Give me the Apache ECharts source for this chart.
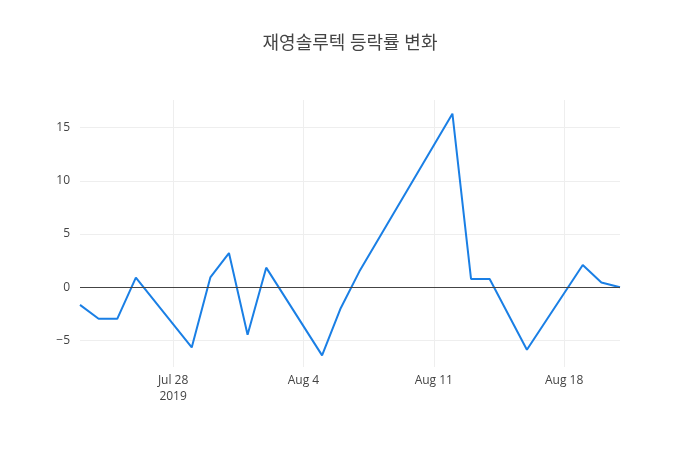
<!DOCTYPE html>
<html>
<head>
<meta charset="utf-8">
<script src="https://cdn.jsdelivr.net/npm/echarts@6/dist/echarts.min.js"></script>
<style>
  html, body { margin: 0; padding: 0; background: #fff; }
  #main { width: 700px; height: 450px; }
</style>
</head>
<body>
<div id="main"></div>
<script>
// 거래일 / 등락률(%)
var dates = ['2019-07-23', '2019-07-24', '2019-07-25', '2019-07-26', '2019-07-29',
             '2019-07-30', '2019-07-31', '2019-08-01', '2019-08-02', '2019-08-05',
             '2019-08-06', '2019-08-07', '2019-08-12', '2019-08-13', '2019-08-14',
             '2019-08-16', '2019-08-19', '2019-08-20', '2019-08-21'];
var rates = [-1.66, -2.97, -2.97, 0.90, -5.66,
             0.92, 3.21, -4.47, 1.84, -6.41,
             -1.97, 1.47, 16.31, 0.78, 0.78,
             -5.88, 2.09, 0.44, 0.0];
var xTickDates = ['2019-07-28', '2019-08-04', '2019-08-11', '2019-08-18'];
var yTicks = [-5, 0, 5, 10, 15];

function toTime(s) {
  var p = s.split('-');
  return new Date(+p[0], +p[1] - 1, +p[2]).getTime();
}
var MONTHS = ['Jan','Feb','Mar','Apr','May','Jun','Jul','Aug','Sep','Oct','Nov','Dec'];
var xTicks = xTickDates.map(toTime);
var seriesData = dates.map(function (d, i) { return [toTime(d), rates[i]]; });

var font = '"Open Sans", "Noto Sans CJK KR", sans-serif';

var option = {
  backgroundColor: '#fff',
  animation: false,
  title: {
    text: '재영솔루텍 등락률 변화',
    left: 'center',
    top: 30,
    textStyle: { fontFamily: font, fontSize: 18, fontWeight: 'normal', color: '#444' }
  },
  grid: { left: 80, right: 80, top: 100, bottom: 83 },
  xAxis: {
    type: 'value',
    min: toTime(dates[0]),
    max: toTime(dates[dates.length - 1]),
    axisLine: { show: false },
    axisTick: { show: false, customValues: xTicks },
    axisLabel: {
      customValues: xTicks,
      color: '#444',
      fontFamily: font,
      fontSize: 12,
      margin: 6,
      lineHeight: 16,
      formatter: function (v) {
        var d = new Date(v);
        var s = MONTHS[d.getMonth()] + ' ' + d.getDate();
        if (v === xTicks[0]) s += '\n' + d.getFullYear();
        return s;
      }
    },
    splitLine: { show: true, lineStyle: { color: '#eee', width: 1 } }
  },
  yAxis: {
    type: 'value',
    min: -7.5,
    max: 17.6,
    axisLine: { show: false },
    axisTick: { show: false, customValues: yTicks },
    axisLabel: {
      customValues: yTicks,
      color: '#444',
      fontFamily: font,
      fontSize: 12,
      margin: 10,
      formatter: function (v) { return v < 0 ? '\u2212' + Math.abs(v) : String(v); }
    },
    splitLine: { show: true, lineStyle: { color: '#eee', width: 1 } }
  },
  series: [{
    type: 'line',
    data: seriesData,
    showSymbol: false,
    lineStyle: { color: '#1a7fe5', width: 2 },
    itemStyle: { color: '#1a7fe5' },
    markLine: {
      silent: true,
      symbol: 'none',
      label: { show: false },
      lineStyle: { color: '#444', width: 1, type: 'solid' },
      data: [{ yAxis: 0 }]
    },
    z: 3
  }]
};

var chart = echarts.init(document.getElementById('main'));
chart.setOption(option);
</script>
</body>
</html>
